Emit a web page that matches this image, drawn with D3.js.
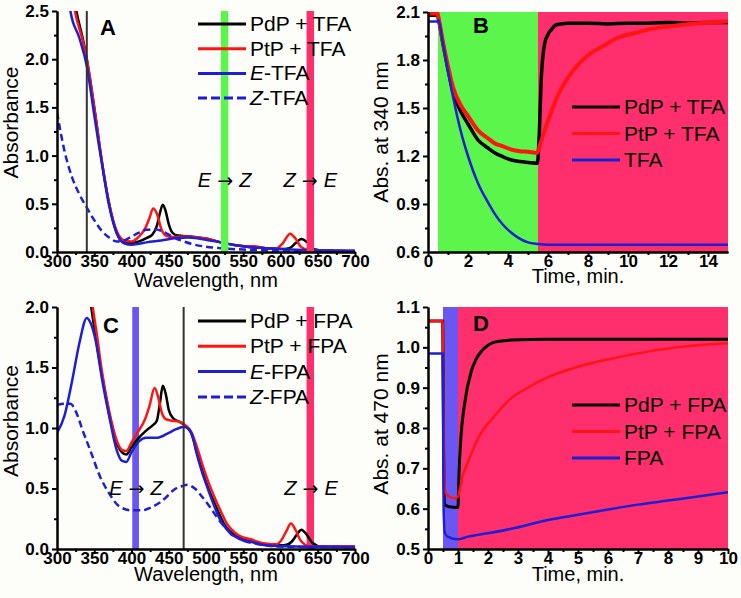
<!DOCTYPE html>
<html>
<head>
<meta charset="utf-8">
<script src="https://cdnjs.cloudflare.com/ajax/libs/d3/7.8.5/d3.min.js"></script>
<style>
body { margin:0; background:#fdfdf9; }
svg { display:block; font-family:"Liberation Sans", Arial, sans-serif; }
</style>
</head>
<body>
<div id="chart-area"></div>
<script>
/*
*    absorbance spectra (A, C) and kinetics (B, D)
*/

//---------- data ----------
//panel A : spectra, TFA
var wlTicks = [300, 350, 400, 450, 500, 550, 600, 650, 700];
var absTicksA = [0, 0.5, 1.0, 1.5, 2.0, 2.5];
var legendA = ["PdP + TFA", "PtP + TFA", "E-TFA", "Z-TFA"];
var probeA = 340;
var bandGreenA = [520, 530];
var bandPinkA = [635, 645];

var aPdP = [[318,2.9],[326,2.5],[335,2.2],[340,2.0],[350,1.5],[360,0.95],[370,0.5],[380,0.2],[390,0.1],[400,0.09],[410,0.11],[420,0.145],[428,0.18],[434,0.27],[438,0.4],[442,0.49],[446,0.42],[450,0.29],[455,0.2],[462,0.17],[480,0.16],[500,0.14],[520,0.1],[540,0.07],[560,0.05],[580,0.04],[600,0.03],[612,0.04],[620,0.09],[628,0.135],[636,0.1],[645,0.03],[660,0.015],[700,0.01]];
var aPtP = [[316,2.9],[324,2.5],[335,2.18],[340,2.0],[350,1.5],[360,0.95],[370,0.5],[380,0.22],[390,0.12],[400,0.11],[410,0.16],[418,0.24],[424,0.35],[429,0.45],[434,0.4],[440,0.24],[446,0.17],[455,0.155],[470,0.16],[500,0.14],[520,0.1],[540,0.07],[555,0.06],[565,0.06],[580,0.04],[595,0.04],[603,0.09],[613,0.19],[620,0.14],[628,0.05],[640,0.02],[700,0.01]];
var aE = [[312,2.9],[318,2.5],[330,2.22],[340,1.93],[350,1.42],[355,1.17],[360,0.93],[370,0.48],[380,0.2],[390,0.09],[400,0.075],[410,0.085],[420,0.1],[440,0.12],[460,0.145],[475,0.15],[490,0.14],[505,0.12],[520,0.1],[540,0.07],[560,0.05],[580,0.04],[600,0.03],[630,0.02],[700,0.01]];
var aZ = [[300,1.45],[310,1.05],[320,0.78],[330,0.6],[340,0.46],[350,0.33],[360,0.22],[370,0.15],[380,0.11],[390,0.12],[400,0.16],[410,0.2],[420,0.23],[430,0.235],[440,0.22],[450,0.18],[460,0.14],[470,0.11],[480,0.085],[500,0.055],[520,0.04],[550,0.025],[600,0.015],[700,0.01]];

//panel B : kinetics at 340 nm, TFA
var timeTicksB = [0, 2, 4, 6, 8, 10, 12, 14];
var absTicksB = [0.6, 0.9, 1.2, 1.5, 1.8, 2.1];
var legendB = ["PdP + TFA", "PtP + TFA", "TFA"];
var bandGreenB = [0.5, 5.5];
var bandPinkB = [5.5, 15];

var bPdP = [[0,2.08],[0.48,2.08],[0.5,2.07],[0.75,1.9],[1,1.74],[1.25,1.6],[1.67,1.47],[2,1.4],[2.5,1.3],[3,1.25],[3.33,1.22],[3.75,1.195],[4.17,1.175],[4.6,1.165],[5,1.16],[5.47,1.155],[5.55,1.3],[5.67,1.7],[5.83,1.9],[6,1.96],[6.17,1.99],[6.42,2.02],[7,2.03],[8,2.03],[9,2.025],[10,2.03],[11,2.03],[12,2.035],[13,2.03],[14,2.035],[15,2.035]];
var bPtP = [[0,2.09],[0.48,2.09],[0.5,2.08],[0.75,1.91],[1,1.76],[1.25,1.63],[1.67,1.51],[2,1.45],[2.5,1.36],[3,1.31],[3.33,1.28],[3.75,1.26],[4.17,1.24],[4.6,1.23],[5,1.227],[5.47,1.22],[5.6,1.27],[6,1.42],[6.5,1.58],[7,1.69],[7.5,1.77],[8,1.83],[8.8,1.89],[9.5,1.94],[10.4,1.97],[11,1.99],[12,2.01],[13.5,2.03],[15,2.04]];
var bTFA = [[0,2.04],[0.48,2.04],[0.5,2.05],[0.75,1.9],[1,1.73],[1.25,1.57],[1.67,1.34],[2,1.2],[2.5,1.03],[3,0.91],[3.33,0.84],[3.75,0.77],[4.17,0.72],[4.5,0.69],[5,0.66],[5.5,0.65],[6,0.645],[15,0.645]];

//panel C : spectra, FPA
var absTicksC = [0, 0.5, 1.0, 1.5, 2.0];
var legendC = ["PdP + FPA", "PtP + FPA", "E-FPA", "Z-FPA"];
var probeC = 470;
var bandVioletC = [401, 410];
var bandPinkC = [635, 645];

var cPdP = [[340,2.3],[346,2.0],[352,1.75],[360,1.45],[370,1.12],[380,0.88],[387,0.8],[393,0.78],[400,0.84],[410,0.92],[420,0.98],[428,1.02],[434,1.06],[438,1.2],[442,1.35],[446,1.28],[450,1.15],[456,1.08],[465,1.05],[472,1.02],[480,0.96],[487,0.82],[495,0.65],[502,0.52],[510,0.4],[517,0.3],[525,0.2],[535,0.13],[545,0.09],[555,0.07],[570,0.05],[590,0.03],[605,0.03],[615,0.06],[622,0.12],[628,0.16],[635,0.12],[643,0.05],[655,0.02],[700,0.02]];
var cPtP = [[342,2.3],[348,2.0],[354,1.75],[360,1.48],[370,1.14],[380,0.9],[387,0.82],[393,0.81],[400,0.88],[410,0.98],[418,1.07],[424,1.18],[431,1.33],[436,1.25],[441,1.12],[447,1.07],[455,1.06],[465,1.05],[473,1.02],[480,0.97],[488,0.84],[496,0.68],[504,0.54],[512,0.42],[520,0.31],[528,0.21],[538,0.14],[548,0.1],[560,0.08],[575,0.05],[595,0.04],[603,0.09],[608,0.15],[614,0.21],[620,0.16],[627,0.07],[640,0.02],[700,0.02]];
var cE = [[300,0.96],[310,1.1],[320,1.38],[330,1.7],[340,1.91],[345,1.87],[352,1.72],[360,1.42],[370,1.1],[380,0.82],[387,0.73],[393,0.72],[400,0.8],[410,0.89],[420,0.92],[435,0.92],[450,0.96],[460,0.99],[470,1.01],[477,0.99],[482,0.93],[487,0.8],[495,0.63],[500,0.54],[507,0.42],[514,0.31],[520,0.23],[527,0.17],[534,0.12],[541,0.1],[550,0.07],[560,0.06],[580,0.03],[620,0.02],[700,0.015]];
var cZ = [[300,1.19],[310,1.2],[318,1.2],[325,1.14],[335,0.97],[345,0.81],[357,0.61],[370,0.46],[384,0.35],[400,0.32],[415,0.32],[425,0.34],[437,0.38],[447,0.43],[457,0.49],[468,0.52],[475,0.53],[485,0.5],[495,0.43],[505,0.35],[515,0.26],[527,0.17],[540,0.1],[555,0.06],[570,0.04],[600,0.02],[700,0.015]];

//panel D : kinetics at 470 nm, FPA
var timeTicksD = [0, 1, 2, 3, 4, 5, 6, 7, 8, 9, 10];
var absTicksD = [0.5, 0.6, 0.7, 0.8, 0.9, 1.0, 1.1];
var legendD = ["PdP + FPA", "PtP + FPA", "FPA"];
var bandVioletD = [0.5, 1.0];
var bandPinkD = [1.0, 10];

var dPdP = [[0,1.065],[0.49,1.065],[0.52,0.75],[0.56,0.61],[0.7,0.605],[1.0,0.603],[1.03,0.68],[1.1,0.78],[1.22,0.86],[1.44,0.94],[1.6,0.97],[1.78,0.99],[2,1.005],[2.22,1.013],[2.78,1.018],[4,1.02],[10,1.02]];
var dPtP = [[0,1.065],[0.49,1.065],[0.5,0.99],[0.53,0.7],[0.58,0.64],[0.7,0.63],[0.89,0.626],[1.0,0.63],[1.15,0.68],[1.33,0.715],[1.67,0.775],[2.22,0.83],[2.78,0.874],[3.33,0.9],[4,0.926],[5,0.952],[6,0.97],[7,0.985],[8,0.997],[9,1.005],[10,1.01]];
var dFPA = [[0,0.985],[0.49,0.985],[0.52,0.6],[0.56,0.54],[0.67,0.53],[1.0,0.524],[1.3,0.53],[1.67,0.535],[2.78,0.55],[4,0.572],[5,0.585],[6,0.598],[7,0.61],[8,0.62],[9,0.63],[10,0.641]];

//---------- colours ----------
var black = "#000000", red = "#ff1414", blue = "#1e1ed2";
var green = "#5cf54c", pink = "#ff2e6c", violet = "#6c56f2";

var svg = d3.select("#chart-area")
	.append("svg")
		.attr("width", 741)
		.attr("height", 598);

//writes "E-TFA" style labels with an italic first letter
function addLabel(text, str) {
	if (/^[EZ]-/.test(str)) {
		text.append("tspan").attr("font-style", "italic").text(str[0]);
		text.append("tspan").text(str.slice(1));
	} else {
		text.text(str);
	}
}

function arrowLabel(g, x, y, from, to) {
	var t = g.append("text")
		.attr("x", x)
		.attr("y", y)
		.attr("font-size", "20px")
		.attr("text-anchor", "middle");
	t.append("tspan").attr("font-style", "italic").text(from);
	t.append("tspan").attr("font-family", "DejaVu Sans").attr("font-size", "19px").text(" \u2192 ");
	t.append("tspan").attr("font-style", "italic").text(to);
}

function midpoints(ticks) {
	var out = [];
	for (var i = 0; i < ticks.length - 1; i++) out.push((ticks[i] + ticks[i+1]) / 2);
	return out;
}

function drawPanel(p) {
	var g = svg.append("g")
		.attr("transform", "translate(" + p.left + ", " + p.top + ")");

	var x = d3.scaleLinear().domain(p.xDomain).range([0, p.width]);
	var y = d3.scaleLinear().domain(p.yDomain).range([p.height, 0]);

	g.append("clipPath")
		.attr("id", "clip" + p.letter)
	.append("rect")
		.attr("width", p.width)
		.attr("height", p.height);

	var plot = g.append("g").attr("clip-path", "url(#clip" + p.letter + ")");

	function band(b) {
		plot.append("rect")
			.attr("x", x(b.range[0]))
			.attr("width", x(b.range[1]) - x(b.range[0]))
			.attr("y", 0)
			.attr("height", p.height)
			.attr("fill", b.color);
	}

	p.bands.filter(function(b){ return !b.front; }).forEach(band);

	var line = d3.line()
		.x(function(d){ return x(d[0]); })
		.y(function(d){ return y(d[1]); })
		.curve(d3.curveMonotoneX);

	p.series.forEach(function(s){
		plot.append("path")
			.datum(s.data)
			.attr("d", line)
			.attr("fill", "none")
			.attr("stroke", s.color)
			.attr("stroke-width", s.width || 2.5)
			.attr("stroke-dasharray", s.dash ? "7,4" : null)
			.attr("stroke-linejoin", "round");
	});

	p.bands.filter(function(b){ return b.front; }).forEach(band);

	if (p.probe) {
		plot.append("line")
			.attr("x1", x(p.probe)).attr("x2", x(p.probe))
			.attr("y1", 0).attr("y2", p.height)
			.attr("stroke", "#333")
			.attr("stroke-width", 2);
	}

	//axes
	g.append("g")
		.attr("transform", "translate(0, " + p.height + ")")
		.call(d3.axisBottom(x).tickValues(p.xTicks).tickSize(5).tickSizeOuter(0).tickPadding(-2)
			.tickFormat(d3.format("d")));
	g.append("g")
		.attr("transform", "translate(0, " + p.height + ")")
		.call(d3.axisBottom(x).tickValues(midpoints(p.xTicks)).tickSize(3).tickSizeOuter(0).tickFormat(""));

	g.append("g")
		.call(d3.axisLeft(y).tickValues(p.yTicks).tickSize(5).tickSizeOuter(0).tickPadding(3)
			.tickFormat(d3.format(".1f")));
	g.append("g")
		.call(d3.axisLeft(y).tickValues(midpoints(p.yTicks)).tickSize(3).tickSizeOuter(0).tickFormat(""));

	g.selectAll(".domain, .tick line")
		.attr("stroke", "#000")
		.attr("stroke-width", 2);
	g.selectAll(".tick text")
		.attr("fill", "#000")
		.attr("font-size", "17px")
		.attr("font-weight", "bold");
	g.selectAll("g").attr("font-family", null);

	//axis titles
	g.append("text")
		.attr("x", p.width / 2)
		.attr("y", p.height + p.xTitleDy)
		.attr("font-size", "20px")
		.attr("text-anchor", "middle")
		.text(p.xTitle);

	g.append("text")
		.attr("transform", "rotate(-90)")
		.attr("x", -(p.height / 2 - p.yTitleShift))
		.attr("y", p.yTitleX)
		.attr("font-size", "21px")
		.attr("text-anchor", "middle")
		.text(p.yTitle);

	//panel letter
	g.append("text")
		.attr("x", p.letterX)
		.attr("y", p.letterY)
		.attr("font-size", "22px")
		.attr("font-weight", "bold")
		.text(p.letter);

	//legend
	p.legend.forEach(function(label, i){
		var s = p.series[i];
		var ly = p.legendY + i * p.legendStep;
		g.append("line")
			.attr("x1", p.legendX).attr("x2", p.legendX + 48)
			.attr("y1", ly).attr("y2", ly)
			.attr("stroke", s.color)
			.attr("stroke-width", 3)
			.attr("stroke-dasharray", s.dash ? "9,4" : null);
		var t = g.append("text")
			.attr("x", p.legendX + 52)
			.attr("y", ly + 7)
			.attr("font-size", "21px");
		addLabel(t, label);
	});

	//E -> Z annotations
	(p.arrows || []).forEach(function(a){
		arrowLabel(g, x(a.at), y(a.level), a.from, a.to);
	});
}

drawPanel({
	letter: "A", left: 57, top: 11, width: 298, height: 241,
	xDomain: [300, 700], yDomain: [0, 2.5], xTicks: wlTicks, yTicks: absTicksA,
	xTitle: "Wavelength, nm", xTitleDy: 35, yTitle: "Absorbance", yTitleX: -39, yTitleShift: 9,
	letterX: 43, letterY: 24,
	bands: [{range: bandGreenA, color: green, front: true}, {range: bandPinkA, color: pink, front: true}],
	probe: probeA,
	series: [{data: aPdP, color: black}, {data: aPtP, color: red}, {data: aE, color: blue}, {data: aZ, color: blue, dash: true}],
	legend: legendA, legendX: 141, legendY: 13, legendStep: 24.7,
	arrows: [{at: 525, level: 0.67, from: "E", to: "Z"}, {at: 640, level: 0.67, from: "Z", to: "E"}]
});

drawPanel({
	letter: "B", left: 428, top: 12, width: 300, height: 240,
	xDomain: [0, 15], yDomain: [0.6, 2.1], xTicks: timeTicksB, yTicks: absTicksB,
	xTitle: "Time, min.", xTitleDy: 31, yTitle: "Abs. at 340 nm", yTitleX: -40, yTitleShift: 0,
	letterX: 45, letterY: 21,
	bands: [{range: bandGreenB, color: green}, {range: bandPinkB, color: pink}],
	series: [{data: bPdP, color: black, width: 3.5}, {data: bPtP, color: red, width: 4}, {data: bTFA, color: blue}],
	legend: legendB, legendX: 144, legendY: 95, legendStep: 26.5
});

drawPanel({
	letter: "C", left: 57, top: 307, width: 298, height: 242,
	xDomain: [300, 700], yDomain: [0, 2.0], xTicks: wlTicks, yTicks: absTicksC,
	xTitle: "Wavelength, nm", xTitleDy: 32, yTitle: "Absorbance", yTitleX: -39, yTitleShift: 7,
	letterX: 46, letterY: 26,
	bands: [{range: bandVioletC, color: violet}, {range: bandPinkC, color: pink}],
	probe: probeC,
	series: [{data: cPdP, color: black}, {data: cPtP, color: red}, {data: cE, color: blue}, {data: cZ, color: blue, dash: true}],
	legend: legendC, legendX: 141, legendY: 14, legendStep: 25.3,
	arrows: [{at: 406, level: 0.45, from: "E", to: "Z"}, {at: 641, level: 0.45, from: "Z", to: "E"}]
});

drawPanel({
	letter: "D", left: 428, top: 307, width: 300, height: 242,
	xDomain: [0, 10], yDomain: [0.5, 1.1], xTicks: timeTicksD, yTicks: absTicksD,
	xTitle: "Time, min.", xTitleDy: 32, yTitle: "Abs. at 470 nm", yTitleX: -40, yTitleShift: 4,
	letterX: 45, letterY: 24,
	bands: [{range: bandVioletD, color: violet}, {range: bandPinkD, color: pink}],
	series: [{data: dPdP, color: black, width: 3}, {data: dPtP, color: red}, {data: dFPA, color: blue}],
	legend: legendD, legendX: 144, legendY: 98, legendStep: 26.5
});
</script>
</body>
</html>
